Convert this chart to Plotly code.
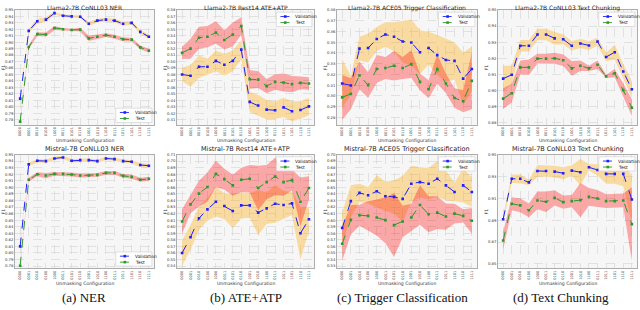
import plotly.graph_objects as go

# ---------------- data ----------------
configs = ['0000', '0001', '0010', '0100', '1000', '0011', '0101', '0110',
           '1001', '1010', '1100', '0111', '1011', '1101', '1110', '1111']

llama_ner_val = [0.8125, 0.9175, 0.9325, 0.935, 0.945, 0.941, 0.940, 0.9395, 0.9285, 0.9335, 0.935, 0.9335, 0.9285, 0.930, 0.916, 0.9085]
llama_ner_val_std = [0.002, 0.003, 0.004, 0.004, 0.002, 0.002, 0.002, 0.002, 0.003, 0.003, 0.003, 0.003, 0.003, 0.003, 0.003, 0.003]
llama_ner_test = [0.777, 0.8925, 0.9125, 0.912, 0.922, 0.920, 0.919, 0.9195, 0.906, 0.9085, 0.911, 0.9085, 0.9045, 0.904, 0.892, 0.887]
llama_ner_test_std = [0.002, 0.003, 0.003, 0.003, 0.003, 0.002, 0.002, 0.003, 0.004, 0.003, 0.003, 0.003, 0.003, 0.003, 0.003, 0.003]

llama_ate_val = [0.480, 0.478, 0.492, 0.492, 0.501, 0.495, 0.501, 0.5185, 0.4375, 0.432, 0.4255, 0.4245, 0.429, 0.423, 0.425, 0.4305]
llama_ate_val_std = [0.0105, 0.0165, 0.0175, 0.0125, 0.016, 0.017, 0.016, 0.015, 0.0155, 0.016, 0.015, 0.0135, 0.015, 0.0155, 0.0135, 0.0135]
llama_ate_test = [0.5135, 0.520, 0.537, 0.5385, 0.545, 0.5335, 0.542, 0.555, 0.4725, 0.472, 0.462, 0.4685, 0.4675, 0.465, 0.467, 0.466]
llama_ate_test_std = [0.0095, 0.0155, 0.017, 0.0165, 0.0175, 0.015, 0.0185, 0.0135, 0.0145, 0.013, 0.011, 0.012, 0.014, 0.0125, 0.010, 0.0095]

llama_trig_val = [0.3116, 0.3098, 0.344, 0.3446, 0.353, 0.3572, 0.3551, 0.3506, 0.3497, 0.3407, 0.3446, 0.338, 0.3335, 0.3326, 0.3161, 0.3251]
llama_trig_val_std = [0.0225, 0.009, 0.0111, 0.0135, 0.0111, 0.0114, 0.0135, 0.0195, 0.0213, 0.0204, 0.015, 0.0186, 0.0201, 0.0174, 0.024, 0.021]
llama_trig_test = [0.2987, 0.302, 0.3191, 0.3101, 0.3251, 0.326, 0.3281, 0.326, 0.3296, 0.3131, 0.3062, 0.3251, 0.3116, 0.2981, 0.2951, 0.314]
llama_trig_test_std = [0.0207, 0.0144, 0.0129, 0.012, 0.0129, 0.0102, 0.0138, 0.0102, 0.0129, 0.0078, 0.0084, 0.0135, 0.009, 0.009, 0.0102, 0.0264]

llama_chunk_val = [0.9074, 0.9098, 0.9278, 0.9278, 0.9348, 0.9348, 0.9324, 0.9318, 0.9278, 0.9292, 0.928, 0.9304, 0.9208, 0.9238, 0.9118, 0.9008]
llama_chunk_val_std = [0.008, 0.0056, 0.0036, 0.0036, 0.0036, 0.0036, 0.004, 0.003, 0.003, 0.0028, 0.0028, 0.0024, 0.0026, 0.0046, 0.0046, 0.0052]
llama_chunk_test = [0.895, 0.8984, 0.9144, 0.9144, 0.9198, 0.9198, 0.920, 0.9188, 0.9138, 0.9154, 0.9138, 0.916, 0.9088, 0.9108, 0.9004, 0.8894]
llama_chunk_test_std = [0.0064, 0.0058, 0.0042, 0.0048, 0.003, 0.003, 0.0034, 0.0036, 0.0046, 0.0032, 0.0016, 0.0026, 0.001, 0.0026, 0.004, 0.0052]

mistral_ner_val = [0.81, 0.935, 0.9405, 0.94, 0.944, 0.9455, 0.9405, 0.9415, 0.9415, 0.94, 0.944, 0.943, 0.94, 0.939, 0.934, 0.933]
mistral_ner_val_std = [0.002, 0.0025, 0.0025, 0.0025, 0.0025, 0.0025, 0.0025, 0.0025, 0.0025, 0.0025, 0.0025, 0.0025, 0.0025, 0.0025, 0.003, 0.003]
mistral_ner_test = [0.7805, 0.9115, 0.920, 0.918, 0.9205, 0.9205, 0.9195, 0.918, 0.918, 0.919, 0.922, 0.922, 0.9175, 0.916, 0.9115, 0.913]
mistral_ner_test_std = [0.002, 0.003, 0.003, 0.004, 0.003, 0.003, 0.003, 0.003, 0.003, 0.003, 0.003, 0.003, 0.003, 0.003, 0.003, 0.003]

mistral_ate_val = [0.56, 0.584, 0.613, 0.6265, 0.638, 0.6315, 0.624, 0.6325, 0.6325, 0.6215, 0.628, 0.635, 0.633, 0.6355, 0.59, 0.6115]
mistral_ate_val_std = [0.019, 0.019, 0.0175, 0.0175, 0.0225, 0.02, 0.026, 0.02, 0.019, 0.034, 0.024, 0.029, 0.0215, 0.0175, 0.04, 0.0175]
mistral_ate_test = [0.608, 0.634, 0.6505, 0.6605, 0.6805, 0.6725, 0.663, 0.6715, 0.673, 0.659, 0.668, 0.6765, 0.668, 0.671, 0.638, 0.659]
mistral_ate_test_std = [0.0185, 0.0135, 0.0195, 0.0225, 0.020, 0.016, 0.016, 0.0185, 0.021, 0.034, 0.026, 0.0285, 0.021, 0.016, 0.037, 0.018]

mistral_trig_val = [0.588, 0.629, 0.6415, 0.638, 0.644, 0.6365, 0.6355, 0.6325, 0.6555, 0.658, 0.6555, 0.663, 0.653, 0.643, 0.653, 0.643]
mistral_trig_val_std = [0.0235, 0.024, 0.014, 0.0125, 0.0245, 0.0225, 0.025, 0.035, 0.0275, 0.0235, 0.0235, 0.0275, 0.0225, 0.014, 0.026, 0.0225]
mistral_trig_test = [0.564, 0.6005, 0.6075, 0.6065, 0.604, 0.600, 0.5925, 0.598, 0.604, 0.623, 0.609, 0.6115, 0.6055, 0.610, 0.6065, 0.599]
mistral_trig_test_std = [0.026, 0.0225, 0.016, 0.0225, 0.0275, 0.035, 0.0485, 0.024, 0.021, 0.030, 0.0275, 0.025, 0.020, 0.015, 0.010, 0.0195]

mistral_chunk_val = [0.8909, 0.9278, 0.9278, 0.9245, 0.935, 0.935, 0.9344, 0.9329, 0.9353, 0.9338, 0.9383, 0.9359, 0.9323, 0.9323, 0.9323, 0.9089]
mistral_chunk_val_std = [0.003, 0.0036, 0.0042, 0.0024, 0.0054, 0.0054, 0.0054, 0.0054, 0.0048, 0.012, 0.003, 0.0051, 0.009, 0.009, 0.0114, 0.021]
mistral_chunk_test = [0.8714, 0.905, 0.9035, 0.899, 0.908, 0.9068, 0.9104, 0.9065, 0.9074, 0.9083, 0.9113, 0.9098, 0.9074, 0.9074, 0.908, 0.8864]
mistral_chunk_test_std = [0.0081, 0.006, 0.0063, 0.0063, 0.0081, 0.0093, 0.0069, 0.006, 0.0057, 0.0156, 0.0081, 0.0078, 0.0063, 0.0063, 0.0063, 0.0336]

titles = ["Llama2-7B CoNLL03 NER", "Llama2-7B Rest14 ATE+ATP",
          "Llama2-7B ACE05 Trigger Classification", "Llama2-7B CoNLL03 Text Chunking",
          "Mistral-7B CoNLL03 NER", "Mistral-7B Rest14 ATE+ATP",
          "Mistral-7B ACE05 Trigger Classification", "Mistral-7B CoNLL03 Text Chunking"]
captions = ["(a) NER", "(b) ATE+ATP", "(c) Trigger Classification", "(d) Text Chunking"]

# ---------------- panel styling ----------------
panels = [
    dict(val=llama_ner_val, vstd=llama_ner_val_std, test=llama_ner_test, tstd=llama_ner_test_std,
         yr=[0.772, 0.95], dt=0.01, t0=0.78, leg='br'),
    dict(val=llama_ate_val, vstd=llama_ate_val_std, test=llama_ate_test, tstd=llama_ate_test_std,
         yr=[0.402, 0.58], dt=0.01, t0=0.41, leg='tr'),
    dict(val=llama_trig_val, vstd=llama_trig_val_std, test=llama_trig_test, tstd=llama_trig_test_std,
         yr=[0.2732, 0.38], dt=0.01, t0=0.28, leg='tr'),
    dict(val=llama_chunk_val, vstd=llama_chunk_val_std, test=llama_chunk_test, tstd=llama_chunk_test_std,
         yr=[0.8788, 0.95], dt=0.01, t0=0.88, leg='tr'),
    dict(val=mistral_ner_val, vstd=mistral_ner_val_std, test=mistral_ner_test, tstd=mistral_ner_test_std,
         yr=[0.7765, 0.95], dt=0.01, t0=0.78, leg='br'),
    dict(val=mistral_ate_val, vstd=mistral_ate_val_std, test=mistral_ate_test, tstd=mistral_ate_test_std,
         yr=[0.5365, 0.71], dt=0.01, t0=0.54, leg='tr'),
    dict(val=mistral_trig_val, vstd=mistral_trig_val_std, test=mistral_trig_test, tstd=mistral_trig_test_std,
         yr=[0.5265, 0.70], dt=0.01, t0=0.53, leg='tr'),
    dict(val=mistral_chunk_val, vstd=mistral_chunk_val_std, test=mistral_chunk_test, tstd=mistral_chunk_test_std,
         yr=[0.8459, 0.95], dt=0.02, t0=0.85, leg='tr'),
]

W, H = 640, 310
col_px = [(15, 154), (177, 314), (337, 477), (498, 637)]
row_px = [(7, 123), (153, 268)]
caption_x = [84, 246, 402, 561]

BLUE = '#1f1fff'
GREEN = '#2a9a2a'
ORANGE_FILL = 'rgba(255,165,0,0.35)'
RED_FILL = 'rgba(255,0,0,0.32)'
FONT = 'DejaVu Sans'

fig = go.Figure()
annotations = []
shapes = []


def py(p):
    return 1 - p / H


for i, p in enumerate(panels):
    r, c = divmod(i, 4)
    suffix = '' if i == 0 else str(i + 1)
    xa, ya = 'x' + suffix, 'y' + suffix
    vu = [m + s for m, s in zip(p['val'], p['vstd'])]
    vl = [m - s for m, s in zip(p['val'], p['vstd'])]
    tu = [m + s for m, s in zip(p['test'], p['tstd'])]
    tl = [m - s for m, s in zip(p['test'], p['tstd'])]
    fig.add_trace(go.Scatter(x=configs + configs[::-1], y=vu + vl[::-1], fill='toself',
                             fillcolor=ORANGE_FILL, line=dict(width=0), mode='lines',
                             hoverinfo='skip', showlegend=False, xaxis=xa, yaxis=ya))
    fig.add_trace(go.Scatter(x=configs + configs[::-1], y=tu + tl[::-1], fill='toself',
                             fillcolor=RED_FILL, line=dict(width=0), mode='lines',
                             hoverinfo='skip', showlegend=False, xaxis=xa, yaxis=ya))
    fig.add_trace(go.Scatter(x=configs, y=p['val'], mode='lines+markers', name='Validation',
                             line=dict(color=BLUE, width=1, dash='dash'),
                             marker=dict(symbol='square', size=2.6, color=BLUE),
                             showlegend=False, xaxis=xa, yaxis=ya))
    fig.add_trace(go.Scatter(x=configs, y=p['test'], mode='lines+markers', name='Test',
                             line=dict(color=GREEN, width=1, dash='dash'),
                             marker=dict(symbol='square', size=2.6, color=GREEN),
                             showlegend=False, xaxis=xa, yaxis=ya))

    x0, x1 = col_px[c]
    y0, y1 = row_px[r]
    fig.update_layout(**{
        'xaxis' + suffix: dict(domain=[x0 / W, x1 / W], anchor=ya, type='category',
                               range=[-0.6, 15.6], tickangle=-90,
                               tickfont=dict(size=3.6, color='#333', family=FONT),
                               showgrid=True, gridcolor='#d4d4d4', griddash='dash', gridwidth=0.6,
                               showline=True, mirror=True, linecolor='#999', linewidth=0.8,
                               ticks='', zeroline=False),
        'yaxis' + suffix: dict(domain=[py(y1), py(y0)], anchor=xa, range=p['yr'],
                               dtick=p['dt'], tick0=p['t0'], tickformat='.2f',
                               tickfont=dict(size=3.8, color='#333', family=FONT),
                               showgrid=True, gridcolor='#d4d4d4', griddash='dash', gridwidth=0.6,
                               showline=True, mirror=True, linecolor='#999', linewidth=0.8,
                               ticks='', zeroline=False),
    })

    # title
    if r == 0:
        annotations.append(dict(text=titles[i], x=(x0 + x1) / 2 / W, y=1.0, xref='paper',
                                yref='paper', xanchor='center', yanchor='top', showarrow=False,
                                font=dict(size=6, color='#222', family=FONT), borderpad=0))
    else:
        annotations.append(dict(text=titles[i], x=(x0 + x1) / 2 / W, y=py(y0 - 0.5), xref='paper',
                                yref='paper', xanchor='center', yanchor='bottom', showarrow=False,
                                font=dict(size=6.5, color='#222', family=FONT), borderpad=0))
    # axis titles
    annotations.append(dict(text='Unmasking Configuration', x=(x0 + x1) / 2 / W,
                            y=py(y1 + 15.5), xref='paper', yref='paper', xanchor='center',
                            yanchor='middle', showarrow=False,
                            font=dict(size=4.6, color='#333', family=FONT)))
    annotations.append(dict(text='F1', x=(x0 - 12) / W, y=py((y0 + y1) / 2), xref='paper',
                            yref='paper', xanchor='center', yanchor='middle', textangle=-90,
                            showarrow=False, font=dict(size=4.6, color='#333', family=FONT)))

    # legend drawn in axis-domain coordinates
    dx = xa + ' domain'
    dy = ya + ' domain'
    if p['leg'] == 'br':
        lx0, lx1, ly0, ly1 = 0.725, 0.985, 0.02, 0.145
    else:
        lx0, lx1, ly0, ly1 = 0.725, 0.985, 0.855, 0.98
    shapes.append(dict(type='rect', xref=dx, yref=dy, x0=lx0, x1=lx1, y0=ly0, y1=ly1,
                       fillcolor='rgba(255,255,255,0.85)', line=dict(color='#cccccc', width=0.6)))
    wpx = x1 - x0
    hpx = y1 - y0
    for k, (lab, col) in enumerate([('Validation', BLUE), ('Test', GREEN)]):
        yy = ly1 - (ly1 - ly0) * (0.3 + 0.42 * k)
        sx0 = lx0 + 0.03
        sx1 = lx0 + 0.1
        shapes.append(dict(type='line', xref=dx, yref=dy, x0=sx0, x1=sx1, y0=yy, y1=yy,
                           line=dict(color=col, width=0.9, dash='dash')))
        mx = (sx0 + sx1) / 2
        mw = 1.3 / wpx
        mh = 1.3 / hpx
        shapes.append(dict(type='rect', xref=dx, yref=dy, x0=mx - mw, x1=mx + mw,
                           y0=yy - mh, y1=yy + mh, fillcolor=col, line=dict(width=0)))
        annotations.append(dict(text=lab, x=sx1 + 0.03, y=yy, xref=dx, yref=dy,
                                xanchor='left', yanchor='middle', showarrow=False,
                                font=dict(size=4.4, color='#222', family=FONT), borderpad=0))

for c in range(4):
    annotations.append(dict(text=captions[c], x=caption_x[c] / W, y=py(297), xref='paper',
                            yref='paper', xanchor='center', yanchor='middle', showarrow=False,
                            font=dict(size=13, color='#111', family='Liberation Serif')))

fig.update_layout(width=W, height=H, margin=dict(l=0, r=0, t=0, b=0),
                  paper_bgcolor='white', plot_bgcolor='#f6f6f6',
                  showlegend=False, annotations=annotations, shapes=shapes,
                  font=dict(family=FONT), hovermode=False)

fig.write_html("out.html", config={'displayModeBar': False, 'staticPlot': True},
               post_script="document.body.style.margin='0';document.body.style.overflow='hidden';")
